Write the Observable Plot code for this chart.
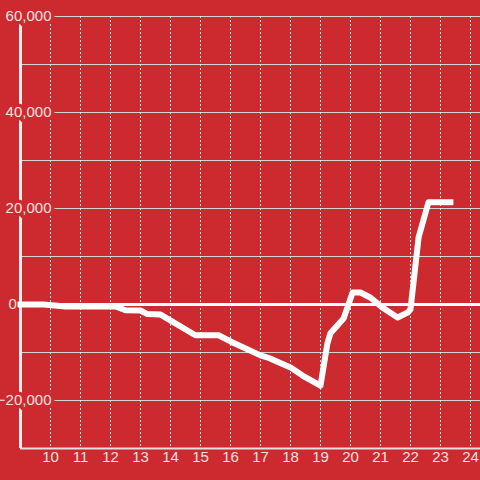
<!DOCTYPE html>
<html>
<head>
<meta charset="utf-8">
<script src="https://cdn.jsdelivr.net/npm/d3@7"></script>
<script src="https://cdn.jsdelivr.net/npm/@observablehq/plot@0.6"></script>
<style>
  html, body { margin: 0; padding: 0; background: #cc2a2e; }
</style>
</head>
<body>
<div id="chart"></div>
<script>
// Data
const hours  = [9, 9.77, 10.5, 12.17, 12.5, 13.0, 13.23, 13.67, 14.83, 15.6, 16.0, 17.0, 17.3, 18.0, 18.4, 19.0, 19.23, 19.33, 19.77, 20.07, 20.33, 20.67, 21.1, 21.57, 21.9, 22.0, 22.27, 22.6, 23.33];
const values = [0, 0, -400, -400, -1200, -1250, -2000, -2100, -6400, -6400, -7700, -10600, -11200, -13100, -14800, -16900, -8100, -6000, -2900, 2500, 2500, 1400, -800, -2700, -1700, -1000, 14000, 21300, 21300];

const xTicks = [10, 11, 12, 13, 14, 15, 16, 17, 18, 19, 20, 21, 22, 23, 24];
const yGrid = [60000, 50000, 40000, 30000, 20000, 10000, -10000, -20000, -30000];
const yTicks = [60000, 40000, 20000, 0, -20000];

const data = hours.map((h, i) => ({hour: h, value: values[i]}));
const fmt = d3.format(",");
const bg = "#cc2a2e";
const labelColor = "#f6e0e0";

const chart = Plot.plot({
  width: 480,
  height: 480,
  marginLeft: 20,
  marginRight: 0,
  marginTop: 16,
  marginBottom: 32,
  x: {domain: [9, 24 + 1/3], axis: null},
  y: {domain: [-30000, 60000], axis: null},
  style: {background: bg, fontFamily: "'Liberation Sans', Arial, sans-serif"},
  marks: [
    Plot.ruleY(yGrid, {stroke: "#d4d4d4", strokeWidth: 1}),
    Plot.ruleX(xTicks, {stroke: "#e6e6e6", strokeWidth: 1, strokeDasharray: "2,2"}),
    Plot.ruleY([-30000], {stroke: "#e0e0e0", strokeWidth: 2}),
    Plot.ruleY([0], {stroke: "#ffffff", strokeWidth: 3}),
    Plot.ruleX([9], {stroke: "#efefef", strokeWidth: 3}),
    Plot.text(yTicks.filter(d => d !== 0), {
      x: 9, y: d => d, text: d => fmt(d), textAnchor: "end", dx: 31,
      fontSize: 15, fill: labelColor, stroke: bg, strokeWidth: 7
    }),
    Plot.text(yTicks.filter(d => d === 0), {
      x: 9, y: d => d, text: d => fmt(d), textAnchor: "start", dx: -12,
      fontSize: 15, fill: labelColor
    }),
    Plot.text(xTicks, {
      x: d => d, frameAnchor: "bottom", dy: 13, text: d => String(d),
      fontSize: 15, fill: labelColor
    }),
    Plot.line(data, {
      x: "hour", y: "value", stroke: "#ffffff", strokeWidth: 6,
      strokeLinejoin: "round", strokeLinecap: "square"
    })
  ]
});
document.getElementById("chart").appendChild(chart);
</script>
</body>
</html>
